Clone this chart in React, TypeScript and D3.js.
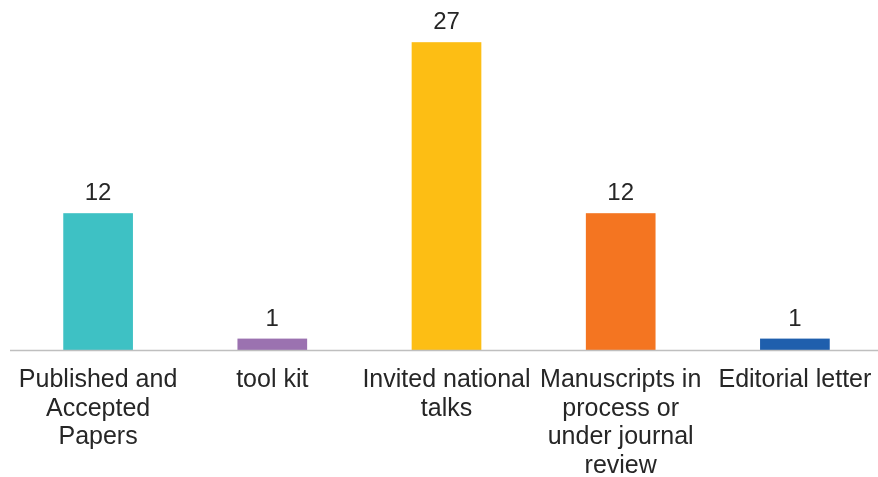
import React, { useEffect, useRef } from 'react';
import * as d3 from 'd3';

const categories = [
  'Published and Accepted Papers',
  'tool kit',
  'Invited national talks',
  'Manuscripts in process or under journal review',
  'Editorial letter',
];
const counts = [12, 1, 27, 12, 1];
const barColors = ['#3EC1C4', '#9B72B0', '#FDBE14', '#F47521', '#1F5FAD'];

function App() {
  const svgRef = useRef<SVGSVGElement>(null);

  useEffect(() => {
    const w = 878;
    const h = 477;
    const baseY = 350;
    const svg = d3.select(svgRef.current).attr('width', w).attr('height', h);
    svg.selectAll('*').remove();

    const x = d3.scaleBand<string>().domain(categories).range([11, 882]).paddingInner(0.6).paddingOuter(0.3);
    const y = d3.scaleLinear().domain([0, 30]).range([baseY, 8]);

    const data = categories.map((c, i) => ({ cat: c, value: counts[i], color: barColors[i] }));

    svg.selectAll('rect.bar')
      .data(data)
      .join('rect')
      .attr('class', 'bar')
      .attr('x', d => x(d.cat)!)
      .attr('width', x.bandwidth())
      .attr('y', d => y(d.value))
      .attr('height', d => baseY - y(d.value))
      .attr('fill', d => d.color);

    // axis line
    svg.append('line')
      .attr('x1', 10).attr('x2', w)
      .attr('y1', baseY + 0.5).attr('y2', baseY + 0.5)
      .attr('stroke', '#bfbfbf').attr('stroke-width', 1.5);

    // value labels
    svg.selectAll('text.val')
      .data(data)
      .join('text')
      .attr('class', 'val')
      .attr('x', d => x(d.cat)! + x.bandwidth() / 2)
      .attr('y', d => y(d.value) - 13)
      .attr('text-anchor', 'middle')
      .attr('font-family', 'Liberation Sans, Arial, sans-serif')
      .attr('font-size', 24)
      .attr('fill', '#262626')
      .text(d => d.value);

    // category labels, wrapped
    const maxW = 172;
    const lab = svg.selectAll('text.cat')
      .data(data)
      .join('text')
      .attr('class', 'cat')
      .attr('text-anchor', 'middle')
      .attr('font-family', 'Liberation Sans, Arial, sans-serif')
      .attr('font-size', 25)
      .attr('fill', '#262626');

    lab.each(function (d) {
      const t = d3.select(this);
      const cx = x(d.cat)! + x.bandwidth() / 2;
      const words = d.cat.split(' ');
      let line: string[] = [];
      let lineNo = 0;
      let tspan = t.append('tspan').attr('x', cx).attr('y', 387);
      words.forEach(word => {
        line.push(word);
        tspan.text(line.join(' '));
        if ((tspan.node() as SVGTSpanElement).getComputedTextLength() > maxW && line.length > 1) {
          line.pop();
          tspan.text(line.join(' '));
          line = [word];
          lineNo++;
          tspan = t.append('tspan').attr('x', cx).attr('y', 387 + lineNo * 28.5).text(word);
        }
      });
    });
  }, []);

  return (
    <div style={{ position: 'fixed', left: 0, top: 0 }}>
      <svg ref={svgRef} style={{ display: 'block' }}></svg>
    </div>
  );
}

export default App;
